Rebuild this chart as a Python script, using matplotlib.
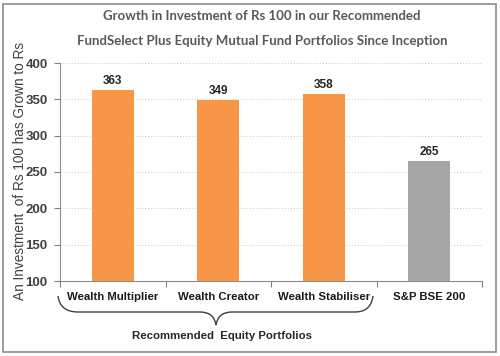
import matplotlib
matplotlib.use("Agg")
import matplotlib.pyplot as plt
from matplotlib.path import Path
from matplotlib.patches import PathPatch, Rectangle
import matplotlib.transforms as mtransforms

categories = ["Wealth Multiplier", "Wealth Creator", "Wealth Stabiliser", "S&P BSE 200"]
values = [363, 349, 358, 265]
colors = ["#F79646", "#F79646", "#F79646", "#A6A6A6"]
yticks = [100, 150, 200, 250, 300, 350, 400]

fig = plt.figure(figsize=(5.0, 3.56), dpi=100)
ax = fig.add_axes([60/500, 1-281/356, (482-60)/500, (281-63)/356])

x = range(len(categories))
ax.bar(x, [v - 100 for v in values], bottom=100, width=0.4, color=colors, zorder=3)
for i, v in enumerate(values):
    ax.text(i, v + 4, str(v), ha="center", va="bottom", fontsize=8.5, fontweight="bold",
            color="#262626", family="Liberation Sans")

ax.set_xlim(-0.5, len(categories) - 0.5)
ax.set_ylim(100, 400)
ax.set_yticks(yticks)
ax.set_yticklabels([str(t) for t in yticks], fontsize=9.5, fontweight="bold", color="#404040",
                   family="Liberation Sans")
ax.yaxis.grid(True, linestyle=(0, (1, 2)), color="#C8C8C8", linewidth=0.7, zorder=0)
ax.set_xticks([-0.5, 0.5, 1.5, 2.5, 3.5])
ax.set_xticklabels([])
ax.tick_params(axis="x", length=4, color="#808080", direction="out")
ax.tick_params(axis="y", length=4, color="#808080", direction="out", pad=5)
for s in ["top", "right"]:
    ax.spines[s].set_visible(False)
for s in ["left", "bottom"]:
    ax.spines[s].set_color("#8C8C8C")

# category labels
for i, c in enumerate(categories):
    ax.text(i, -0.075, c, transform=mtransforms.blended_transform_factory(ax.transData, ax.transAxes),
            ha="center", va="center", fontsize=8.2, fontweight="bold", color="#1a1a1a",
            family="Liberation Sans")

# brace (figure pixel coordinates)
def fp(px, py):
    return (px / 500, 1 - py / 356)
pts = [(58, 296), (60, 312), (78, 312), (200, 312), (214, 312), (216, 325),
       (218, 312), (232, 312), (355, 312), (371, 312), (373, 296)]
codes = [Path.MOVETO, Path.CURVE3, Path.CURVE3, Path.LINETO, Path.CURVE3, Path.CURVE3,
         Path.CURVE3, Path.CURVE3, Path.LINETO, Path.CURVE3, Path.CURVE3]
fig.patches.append(PathPatch(Path([fp(*p) for p in pts], codes), transform=fig.transFigure,
                             fill=False, edgecolor="#404040", linewidth=1.0))
fig.text(222/500, 1 - 336/356, "Recommended  Equity Portfolios", ha="center", va="center",
         fontsize=8.2, fontweight="bold", color="#262626", family="Liberation Sans")

# y label
fig.text(20/500, 1 - 171/356, "An Investment  of Rs 100 has Grown to Rs", rotation=90,
         ha="center", va="center", fontsize=9.8, color="#404040", family="Liberation Sans")

# title
fig.text(262/500, 1 - 16/356, "Growth in Investment of Rs 100 in our Recommended", ha="center",
         va="center", fontsize=9.5, fontweight="bold", color="#595959", family="Lato")
fig.text(262/500, 1 - 41/356, "FundSelect Plus Equity Mutual Fund Portfolios Since Inception",
         ha="center", va="center", fontsize=9.5, fontweight="bold", color="#595959", family="Lato")

# border
fig.patches.append(Rectangle((3/500, 4/356), 493/500, 348/356, transform=fig.transFigure,
                             fill=False, edgecolor="#8C8C8C", linewidth=1.2))

fig.savefig("out.png", dpi=100)
